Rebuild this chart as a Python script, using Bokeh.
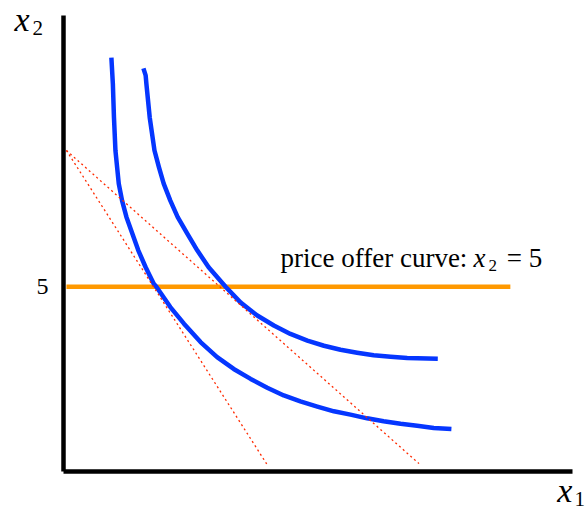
from bokeh.plotting import figure
from bokeh.models import Range1d, FixedTicker, Label
from bokeh.embed import file_html
from bokeh.resources import INLINE

# ---- data ----
ic_low_x = [1.30, 1.34, 1.37, 1.41, 1.50, 1.59, 1.71, 1.87, 2.03, 2.23, 2.45, 2.52,
            2.90, 3.27, 3.72, 4.17, 4.62, 5.08, 5.53, 5.98, 6.43, 6.89, 7.34, 7.79,
            8.24, 8.69, 9.15, 9.60, 10.05, 10.53]
ic_low_y = [11.22, 10.51, 9.60, 8.70, 7.80, 7.34, 6.89, 6.44, 5.99, 5.53, 5.08, 5.00,
            4.45, 4.00, 3.50, 3.09, 2.77, 2.50, 2.26, 2.05, 1.89, 1.75, 1.62, 1.53,
            1.43, 1.35, 1.28, 1.23, 1.17, 1.14]

ic_high_x = [2.17, 2.23, 2.25, 2.34, 2.47, 2.59, 2.72, 2.90, 3.10, 3.36, 3.63, 3.94,
             4.40, 4.81, 5.26, 5.71, 6.16, 6.62, 7.07, 7.52, 7.97, 8.42, 8.88, 9.33, 10.16]
ic_high_y = [10.93, 10.74, 10.51, 9.60, 8.70, 8.25, 7.80, 7.34, 6.89, 6.44, 5.99, 5.53,
             5.00, 4.57, 4.22, 3.95, 3.72, 3.54, 3.40, 3.29, 3.21, 3.14, 3.10, 3.07, 3.05]

budget_a_x = [0.08, 5.53]
budget_a_y = [8.70, 0.17]
budget_b_x = [0.08, 9.65]
budget_b_y = [8.70, 0.20]

poc_x = [0.08, 12.13]
poc_y = [5, 5]

y_ticks = [5]
y_tick_labels = {5: "5"}

# ---- figure ----
p = figure(width=586, height=510, output_backend="svg", toolbar_location=None,
           x_range=Range1d(-1.710, 14.197), y_range=Range1d(-1.072, 12.771),
           min_border=0)
p.outline_line_color = None
p.xgrid.visible = False
p.ygrid.visible = False

for ax in (p.xaxis[0], p.yaxis[0]):
    ax.fixed_location = 0
    ax.axis_line_width = 4.5
    ax.axis_line_color = "black"
    ax.major_tick_line_color = None
    ax.minor_tick_line_color = None
    ax.major_tick_out = 0
    ax.major_tick_in = 0
    ax.minor_tick_out = 0
    ax.minor_tick_in = 0

p.xaxis[0].bounds = (0, 13.82)
p.yaxis[0].bounds = (0, 12.36)
p.xaxis[0].ticker = FixedTicker(ticks=[])
p.xaxis[0].major_label_text_font_size = "0px"
p.yaxis[0].ticker = FixedTicker(ticks=y_ticks)
p.yaxis[0].major_label_overrides = y_tick_labels
p.yaxis[0].major_label_text_font = "Liberation Serif"
p.yaxis[0].major_label_text_font_size = "24px"
p.yaxis[0].major_label_text_color = "black"
p.yaxis[0].major_label_standoff = 15

BLUE = "#0536ff"
ORANGE = "#ff9900"
RED = "#ff2a00"

p.line(poc_x, poc_y, line_color=ORANGE, line_width=4.5)
p.line(ic_low_x, ic_low_y, line_color=BLUE, line_width=4.5, line_join="round")
p.line(ic_high_x, ic_high_y, line_color=BLUE, line_width=4.5, line_join="round")
p.line(budget_a_x, budget_a_y, line_color=RED, line_width=1.3, line_dash="2 3")
p.line(budget_b_x, budget_b_y, line_color=RED, line_width=1.3, line_dash="2 3")

def lab(x, y, t, size, style="normal"):
    p.add_layout(Label(x=x, y=y, text=t, text_font="Liberation Serif",
                       text_font_size=size, text_font_style=style,
                       text_color="black", text_align="left",
                       text_baseline="alphabetic"))

lab(5.89, 5.79, "price offer curve:", "27px")
lab(11.13, 5.79, "x", "27px", "italic")
lab(11.54, 5.58, "2", "17px")
lab(12.03, 5.79, "= 5", "27px")

lab(-1.33, 12.25, "x", "34px", "italic")
lab(-0.84, 12.03, "2", "21px")
lab(13.40, -0.53, "x", "34px", "italic")
lab(13.87, -0.75, "1", "21px")

open("out.html", "w").write(file_html(p, INLINE))
